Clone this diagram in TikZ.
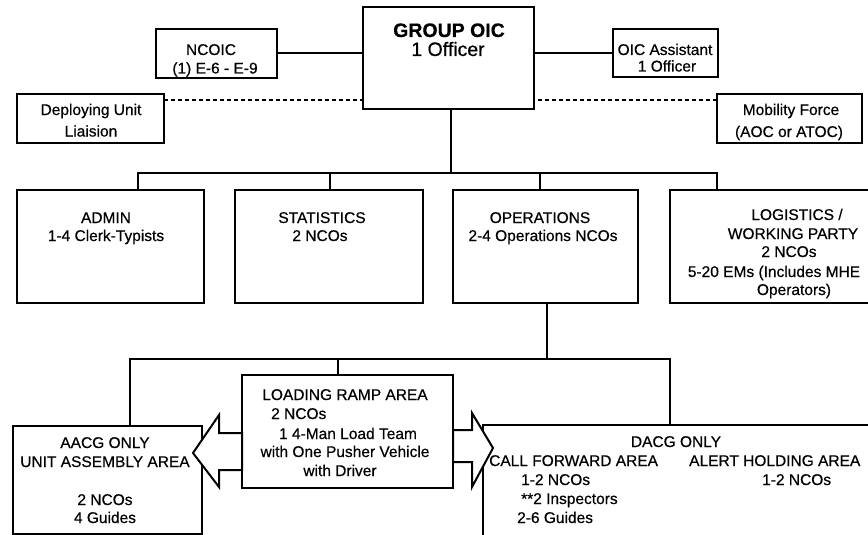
\documentclass[tikz,border=0pt]{standalone}
\usepackage{fontspec}
\setmainfont{Liberation Sans}[FakeBold=0.5]
\begin{document}
\begin{tikzpicture}[x=1pt,y=-1pt,
  box/.style={draw, line width=2pt, fill=white, inner sep=0pt, outer sep=0pt, anchor=north west},
  link/.style={line width=2pt},
  liaison/.style={line width=1.3pt, dash pattern=on 4pt off 3pt},
  bigarrow/.style={draw, line width=2pt, fill=white, line join=miter},
  txt/.style={inner sep=0pt, anchor=base, font=\fontsize{15.5}{18}\selectfont},
  txtl/.style={txt, anchor=base west},
  head/.style={inner sep=0pt, anchor=base, font=\fontsize{19.5}{20}\selectfont}]

\useasboundingbox (0,0) rectangle (868,535);
\begin{scope}
\clip (0,0) rectangle (868,535);

% ---------- boxes ----------
\node[box, minimum width=171pt, minimum height=102pt] (goic)    at (363,7)   {};
\node[box, minimum width=121pt, minimum height=49pt]  (ncoic)   at (156,29)  {};
\node[box, minimum width=105pt, minimum height=48pt]  (oicasst) at (613,29)  {};
\node[box, minimum width=147pt, minimum height=49pt]  (dul)     at (17,94)   {};
\node[box, minimum width=145pt, minimum height=49pt]  (mob)     at (717,94)  {};

\node[box, minimum width=187pt, minimum height=113pt] (admin) at (17,190)  {};
\node[box, minimum width=188pt, minimum height=113pt] (stats) at (235,190) {};
\node[box, minimum width=185pt, minimum height=113pt] (ops)   at (453,190) {};
\node[box, minimum width=246pt, minimum height=113pt] (log)   at (670,190) {};

\node[box, minimum width=211pt, minimum height=113pt] (ramp) at (242,375) {};
\node[box, minimum width=189pt, minimum height=108pt] (aacg) at (13,426)  {};
\node[box, minimum width=417pt, minimum height=120pt] (dacg) at (483,425) {};

% ---------- connectors ----------
\draw[link] (ncoic.east) -- (ncoic.east -| goic.west);
\draw[link] (oicasst.west) -- (oicasst.west -| goic.east);

\coordinate (dl) at ([yshift=-6pt]dul.north east);
\coordinate (ml) at ([yshift=-6pt]mob.north west);
\draw[liaison] (dl) -- (dl -| goic.west);
\draw[liaison] (ml) -- (ml -| goic.east);

\coordinate (busA) at (451,173);
\draw[link] (goic.south -| busA) -- (busA);
\draw[link] ([xshift=27.5pt]admin.north) |- (busA) -| ([xshift=-76pt]log.north);
\draw[link] ([xshift=1pt]stats.north) -- ++(0,-17);
\draw[link] ([xshift=-5.5pt]ops.north) -- ++(0,-17);

\coordinate (busB) at (547,359);
\draw[link] (ops.south -| busB) -- (busB);
\draw[link] ([xshift=22.5pt]aacg.north) |- (busB) -| ([xshift=-21.5pt]dacg.north);
\draw[link] ([xshift=-9.5pt]ramp.north) -- ++(0,-16);

% ---------- block arrows out of the loading ramp ----------
\draw[bigarrow] ([yshift=-1.5pt]ramp.west) -- ++(-23,0) -- ++(0,-18) -- ++(-26,38)
  -- ++(26,34) -- ++(0,-17) -- ++(23,0) -- cycle;
\draw[bigarrow] ([yshift=1.5pt]ramp.east) -- ++(19,0) -- ++(0,-17) -- ++(21,35)
  -- ++(-21,39) -- ++(0,-25) -- ++(-19,0) -- cycle;

% ---------- texts ----------
\node[head] (g1) at (449,37) {\bfseries GROUP OIC};
\node[head] (g2) at (448,56) {1 Officer};

\node[txt] (n1) at (211,55)   {NCOIC};
\node[txt] (n2) at (215,73.5) {(1) E-6 - E-9};
\node[txt] (a1) at (665,55)   {OIC Assistant};
\node[txt] (a2) at (667,71.5) {1 Officer};

\node[txt] (d1) at (91,115)   {Deploying Unit};
\node[txt] (d2) at (91,136.5) {Liaision};
\node[txt] (m1) at (791,115)  {Mobility Force};
\node[txt] (m2) at (789,137)  {(AOC or ATOC)};

\node[txt] (ad1) at (106,223) {ADMIN};
\node[txt] (ad2) at (106,241) {1-4 Clerk-Typists};
\node[txt] (st1) at (322,223) {STATISTICS};
\node[txt] (st2) at (320,241) {2 NCOs};
\node[txt] (op1) at (540,223) {OPERATIONS};
\node[txt] (op2) at (543,241) {2-4 Operations NCOs};
\node[txt] (lg1) at (797,220) {LOGISTICS /};
\node[txt] (lg2) at (793,239) {WORKING PARTY};
\node[txt] (lg3) at (789,257) {2 NCOs};
\node[txt] (lg4) at (774,277) {5-20 EMs (Includes MHE};
\node[txt] (lg5) at (794,295) {Operators)};

\node[txt]  (r1) at (345,400) {LOADING RAMP AREA};
\node[txtl] (r2) at (271,419) {2 NCOs};
\node[txt]  (r3) at (348,439) {1 4-Man Load Team};
\node[txt]  (r4) at (345,457) {with One Pusher Vehicle};
\node[txt]  (r5) at (340,476) {with Driver};

\node[txt] (u1) at (105,448) {AACG ONLY};
\node[txt] (u2) at (105,467) {UNIT ASSEMBLY AREA};
\node[txt] (u3) at (105,505) {2 NCOs};
\node[txt] (u4) at (105,523) {4 Guides};

\node[txt]  (c0) at (676,447) {DACG ONLY};
\node[txtl] (c1) at (489,466) {CALL FORWARD AREA};
\node[txtl] (h1) at (689,466) {ALERT HOLDING AREA};
\node[txtl] (c2) at (521,485) {1-2 NCOs};
\node[txtl] (h2) at (762,485) {1-2 NCOs};
\node[txtl] (c3) at (521,504) {**2 Inspectors};
\node[txtl] (c4) at (517,523) {2-6 Guides};
\end{scope}
\end{tikzpicture}
\end{document}
